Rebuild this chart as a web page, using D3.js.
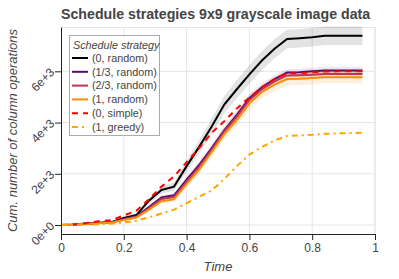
<!DOCTYPE html>
<html>
<head>
<meta charset="utf-8">
<script src="https://cdn.jsdelivr.net/npm/d3@7"></script>
<style>
  body { margin: 0; background: #fff; }
  svg { display: block; font-family: "Liberation Sans", Arial, sans-serif; }
</style>
</head>
<body>
<div id="chart"></div>
<script>
// time axis samples
var times = [0, 0.04, 0.08, 0.12, 0.16, 0.2, 0.24, 0.28, 0.32, 0.36, 0.4, 0.44, 0.48,
             0.52, 0.56, 0.6, 0.64, 0.68, 0.72, 0.76, 0.8, 0.84, 0.88, 0.92, 0.96];

// mean cumulative column operations
var random0   = [0, 20, 60, 90, 110, 280, 390, 950, 1370, 1500, 2300, 3050, 3850,
                 4700, 5300, 5880, 6420, 6880, 7260, 7290, 7330, 7390, 7390, 7390, 7390];
var random13  = [0, 15, 50, 80, 100, 240, 340, 700, 1080, 1160, 1770, 2350, 3000,
                 3700, 4300, 4950, 5380, 5700, 5950, 5960, 6000, 6030, 6035, 6035, 6035];
var random23  = [0, 14, 45, 75, 95, 220, 320, 650, 1020, 1090, 1690, 2270, 2940,
                 3650, 4230, 4880, 5300, 5610, 5840, 5850, 5870, 5900, 5900, 5900, 5900];
var random1   = [0, 12, 40, 70, 90, 200, 290, 600, 930, 1000, 1600, 2160, 2850,
                 3550, 4100, 4750, 5200, 5480, 5700, 5710, 5740, 5770, 5770, 5770, 5770];
var simple0   = [0, 20, 70, 150, 190, 370, 560, 1000, 1500, 1900, 2450, 3000, 3600,
                 4050, 4550, 4980, 5380, 5700, 5920, 5930, 5960, 5990, 6000, 6000, 6000];
var greedy1   = [0, 10, 20, 30, 50, 100, 170, 300, 450, 600, 850, 1100, 1350,
                 1800, 2300, 2750, 3050, 3300, 3480, 3500, 3520, 3560, 3580, 3590, 3600];

// spread (std) of the random strategies
var random0Std  = [0, 5, 10, 15, 20, 40, 60, 110, 140, 160, 220, 270, 310,
                   340, 360, 370, 370, 370, 360, 360, 360, 360, 360, 360, 360];
var random13Std = [0, 3, 8, 10, 12, 25, 35, 60, 80, 90, 110, 130, 140,
                   150, 160, 160, 160, 150, 140, 140, 140, 140, 140, 140, 140];
var random23Std = [0, 3, 8, 10, 12, 25, 35, 60, 80, 90, 120, 140, 160,
                   170, 180, 180, 180, 170, 170, 170, 170, 170, 170, 170, 170];
var random1Std  = [0, 3, 8, 12, 15, 30, 40, 70, 90, 100, 140, 170, 200,
                   220, 240, 250, 250, 250, 240, 240, 240, 240, 240, 240, 240];

var labels = ["(0, random)", "(1/3, random)", "(2/3, random)", "(1, random)", "(0, simple)", "(1, greedy)"];
var xTicks = [0, 0.2, 0.4, 0.6, 0.8, 1];
var xTickLabels = ["0", "0.2", "0.4", "0.6", "0.8", "1"];
var yTicks = [0, 2000, 4000, 6000];
var yTickLabels = ["0e+0", "2e+3", "4e+3", "6e+3"];

var series = [
  {name: labels[0], values: random0,  std: random0Std,  color: "#000003", dash: null, alpha: 0.11},
  {name: labels[1], values: random13, std: random13Std, color: "#56106E", dash: null, alpha: 0.1},
  {name: labels[2], values: random23, std: random23Std, color: "#BB3754", dash: null, alpha: 0.12},
  {name: labels[3], values: random1,  std: random1Std,  color: "#F98C09", dash: null, alpha: 0.14},
  {name: labels[4], values: simple0,  std: null,        color: "#FF0000", dash: "6,5"},
  {name: labels[5], values: greedy1,  std: null,        color: "#FFA500", dash: "6,4,2,4"}
];

var width = 399, height = 279;
var margin = {top: 27, right: 24, bottom: 45, left: 61};
var plotW = width - margin.left - margin.right;
var plotH = height - margin.top - margin.bottom;

var svg = d3.select("#chart").append("svg")
  .attr("width", width)
  .attr("height", height);

var x = d3.scaleLinear().domain([0, 1]).range([0, plotW]);
var y = d3.scaleLinear().domain([-350, 7730]).range([plotH, 0]);

var g = svg.append("g").attr("transform", "translate(" + margin.left + "," + margin.top + ")");

// grid
g.selectAll(".xgrid").data(xTicks.slice(1)).enter().append("line")
  .attr("x1", d => x(d)).attr("x2", d => x(d))
  .attr("y1", 0).attr("y2", plotH)
  .attr("stroke", "#e5e5e5");
g.selectAll(".ygrid").data(yTicks).enter().append("line")
  .attr("x1", 0).attr("x2", plotW)
  .attr("y1", d => y(d)).attr("y2", d => y(d))
  .attr("stroke", "#e5e5e5");
g.append("line").attr("x1", 0).attr("x2", plotW).attr("y1", 0.5).attr("y2", 0.5).attr("stroke", "#e5e5e5");

// bands
var area = d3.area()
  .x((d, i) => x(times[i]))
  .y0(d => y(d[0]))
  .y1(d => y(d[1]));

series.forEach(function(s) {
  if (!s.std) return;
  var band = s.values.map((v, i) => [v - s.std[i], v + s.std[i]]);
  g.append("path")
    .attr("d", area(band))
    .attr("fill", s.color)
    .attr("fill-opacity", s.alpha)
    .attr("stroke", "none");
});

// lines
var line = d3.line()
  .x((d, i) => x(times[i]))
  .y(d => y(d));

series.forEach(function(s) {
  g.append("path")
    .attr("d", line(s.values))
    .attr("fill", "none")
    .attr("stroke", s.color)
    .attr("stroke-width", 2)
    .attr("stroke-dasharray", s.dash);
});

// axes
var xAxisG = g.append("g").attr("transform", "translate(0," + plotH + ")");
xAxisG.call(d3.axisBottom(x).tickValues(d3.range(0, 1.0001, 0.04)).tickSize(4).tickFormat(""));
xAxisG.call(d3.axisBottom(x).tickValues(xTicks).tickSizeInner(6).tickSizeOuter(0)
  .tickFormat((d, i) => xTickLabels[i]));
xAxisG.selectAll("path, line").attr("stroke", "#222");
xAxisG.selectAll("text")
  .attr("font-size", "12px")
  .attr("fill", "#444")
  .attr("font-family", "Liberation Sans, Arial, sans-serif");

var yAxisG = g.append("g");
yAxisG.call(d3.axisLeft(y).tickValues(d3.range(-0, 7730, 400)).tickSize(4).tickFormat(""));
yAxisG.call(d3.axisLeft(y).tickValues(yTicks).tickSizeInner(6).tickSizeOuter(0)
  .tickFormat((d, i) => yTickLabels[i]));
yAxisG.selectAll("path, line").attr("stroke", "#222");
yAxisG.selectAll("text")
  .attr("font-size", "12px")
  .attr("fill", "#444")
  .attr("font-family", "Liberation Sans, Arial, sans-serif")
  .attr("text-anchor", "end")
  .attr("dy", null)
  .attr("dominant-baseline", "middle")
  .attr("x", null)
  .attr("transform", "translate(-8,-1) rotate(-45)");

// outline right
g.append("line").attr("x1", plotW).attr("x2", plotW).attr("y1", 0).attr("y2", plotH).attr("stroke", "#e5e5e5");

// title and axis labels
svg.append("text")
  .attr("x", margin.left).attr("y", 19)
  .attr("font-size", "14.2px").attr("font-weight", "bold")
  .attr("fill", "#444")
  .text("Schedule strategies 9x9 grayscale image data");

svg.append("text")
  .attr("x", margin.left + plotW / 2).attr("y", 271)
  .attr("text-anchor", "middle")
  .attr("font-size", "13px").attr("font-style", "italic")
  .attr("fill", "#444")
  .text("Time");

svg.append("text")
  .attr("transform", "translate(17," + (margin.top + plotH / 2) + ") rotate(-90)")
  .attr("text-anchor", "middle")
  .attr("font-size", "13px").attr("font-style", "italic")
  .attr("fill", "#444")
  .text("Cum. number of column operations");

// legend
var legend = svg.append("g").attr("transform", "translate(69,35)");
legend.append("rect")
  .attr("x", 0.5).attr("y", 0.5)
  .attr("width", 90).attr("height", 100)
  .attr("fill", "#fff").attr("fill-opacity", 0.95)
  .attr("stroke", "#aaa");
legend.append("text")
  .attr("x", 4).attr("y", 13.5)
  .attr("font-size", "10.8px").attr("font-style", "italic")
  .attr("fill", "#444")
  .text("Schedule strategy");
var items = legend.selectAll(".item").data(series).enter().append("g")
  .attr("transform", (d, i) => "translate(0," + (23 + i * 13.8) + ")");
items.append("line")
  .attr("x1", 3).attr("x2", 19)
  .attr("stroke", d => d.color)
  .attr("stroke-width", 2)
  .attr("stroke-dasharray", d => d.dash);
items.append("text")
  .attr("x", 23).attr("y", 0)
  .attr("dy", "0.35em")
  .attr("font-size", "10.8px")
  .attr("fill", "#444")
  .text(d => d.name);
</script>
</body>
</html>
